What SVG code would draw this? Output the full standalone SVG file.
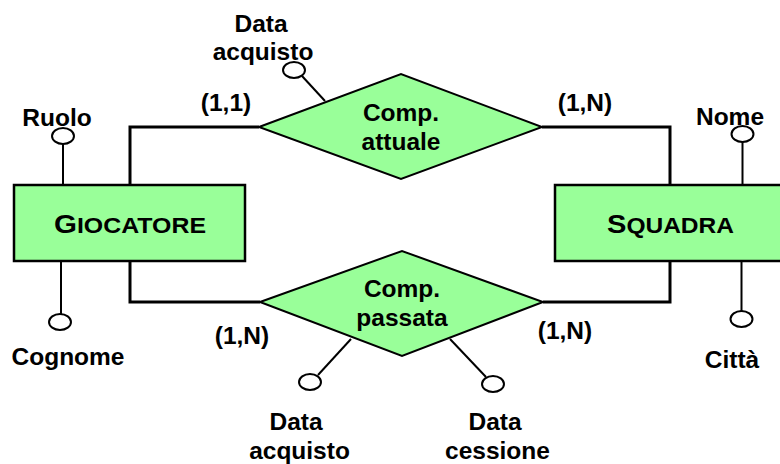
<svg xmlns="http://www.w3.org/2000/svg" width="780" height="464" viewBox="0 0 780 464">
  <style>
    .ent { fill: #99ff99; stroke: #000; stroke-width: 2.5; }
    .rel { fill: #99ff99; stroke: #000; stroke-width: 2; }
    .link { fill: none; stroke: #000; stroke-width: 3; }
    .attr-line { fill: none; stroke: #000; stroke-width: 2; }
    .attr-dot { fill: #fff; stroke: #000; stroke-width: 2; }
    text { font-family: "Liberation Sans", Arial, sans-serif; font-weight: bold; fill: #000; }
    .lbl { font-size: 24.5px; text-anchor: middle; }
    .card { font-size: 24.5px; text-anchor: middle; }
    .big { font-size: 25.5px; }
    .small { font-size: 21.5px; }
  </style>
  <rect width="780" height="464" fill="#fff"/>

  <!-- entity/relationship links -->
  <g id="connectors">
    <polyline class="link" points="130,185 130,127 259,127"/>
    <polyline class="link" points="542,127 670,127 670,185"/>
    <polyline class="link" points="130,261 130,302 260,302"/>
    <polyline class="link" points="543,302 670,302 670,261"/>
  </g>

  <g id="giocatore">
    <rect class="ent" x="14" y="185" width="231" height="76"/>
    <text x="54" y="232.5" textLength="152" lengthAdjust="spacingAndGlyphs"><tspan class="big">G</tspan><tspan class="small">IOCATORE</tspan></text>
  </g>

  <g id="squadra">
    <rect class="ent" x="555" y="185" width="240" height="76"/>
    <text x="607" y="232.5" textLength="127" lengthAdjust="spacingAndGlyphs"><tspan class="big">S</tspan><tspan class="small">QUADRA</tspan></text>
  </g>

  <g id="comp-attuale">
    <polygon class="rel" points="259,127 401,74 542,127 401,179"/>
    <text class="lbl" x="401" y="121">Comp.</text>
    <text class="lbl" x="401" y="150">attuale</text>
  </g>

  <g id="comp-passata">
    <polygon class="rel" points="260,302 402,251 543,302 402,356"/>
    <text class="lbl" x="402" y="297">Comp.</text>
    <text class="lbl" x="402" y="326">passata</text>
  </g>

  <!-- attributes -->
  <g id="attr-ruolo">
    <line class="attr-line" x1="63" y1="185" x2="63" y2="144"/>
    <ellipse class="attr-dot" cx="63" cy="136" rx="11" ry="8"/>
    <text class="lbl" x="57" y="126">Ruolo</text>
  </g>

  <g id="attr-cognome">
    <line class="attr-line" x1="61" y1="261" x2="61" y2="314"/>
    <ellipse class="attr-dot" cx="60" cy="322" rx="11" ry="8"/>
    <text class="lbl" x="68" y="365">Cognome</text>
  </g>

  <g id="attr-nome">
    <line class="attr-line" x1="742.5" y1="185" x2="742.5" y2="142"/>
    <ellipse class="attr-dot" cx="742.5" cy="134" rx="11" ry="8"/>
    <text class="lbl" x="730" y="125">Nome</text>
  </g>

  <g id="attr-citta">
    <line class="attr-line" x1="741.5" y1="261" x2="741.5" y2="311"/>
    <ellipse class="attr-dot" cx="741.5" cy="319" rx="11" ry="8"/>
    <text class="lbl" x="732" y="368">Città</text>
  </g>

  <g id="attr-data-acquisto-attuale">
    <line class="attr-line" x1="302" y1="76" x2="325" y2="101"/>
    <ellipse class="attr-dot" cx="294" cy="70" rx="11" ry="8"/>
    <text class="lbl" x="261" y="32">Data</text>
    <text class="lbl" x="263" y="60">acquisto</text>
  </g>

  <g id="attr-data-acquisto-passata">
    <line class="attr-line" x1="351" y1="339" x2="318" y2="375"/>
    <ellipse class="attr-dot" cx="310" cy="382" rx="11" ry="8"/>
    <text class="lbl" x="296" y="430">Data</text>
    <text class="lbl" x="299.5" y="459">acquisto</text>
  </g>

  <g id="attr-data-cessione">
    <line class="attr-line" x1="450" y1="339" x2="486" y2="377"/>
    <ellipse class="attr-dot" cx="493" cy="384" rx="11" ry="8"/>
    <text class="lbl" x="495" y="430">Data</text>
    <text class="lbl" x="497.5" y="459">cessione</text>
  </g>

  <!-- cardinalities -->
  <g id="cardinalities">
    <text class="card" x="226" y="111">(1,1)</text>
    <text class="card" x="585" y="111">(1,N)</text>
    <text class="card" x="242" y="344">(1,N)</text>
    <text class="card" x="565" y="339">(1,N)</text>
  </g>
</svg>
